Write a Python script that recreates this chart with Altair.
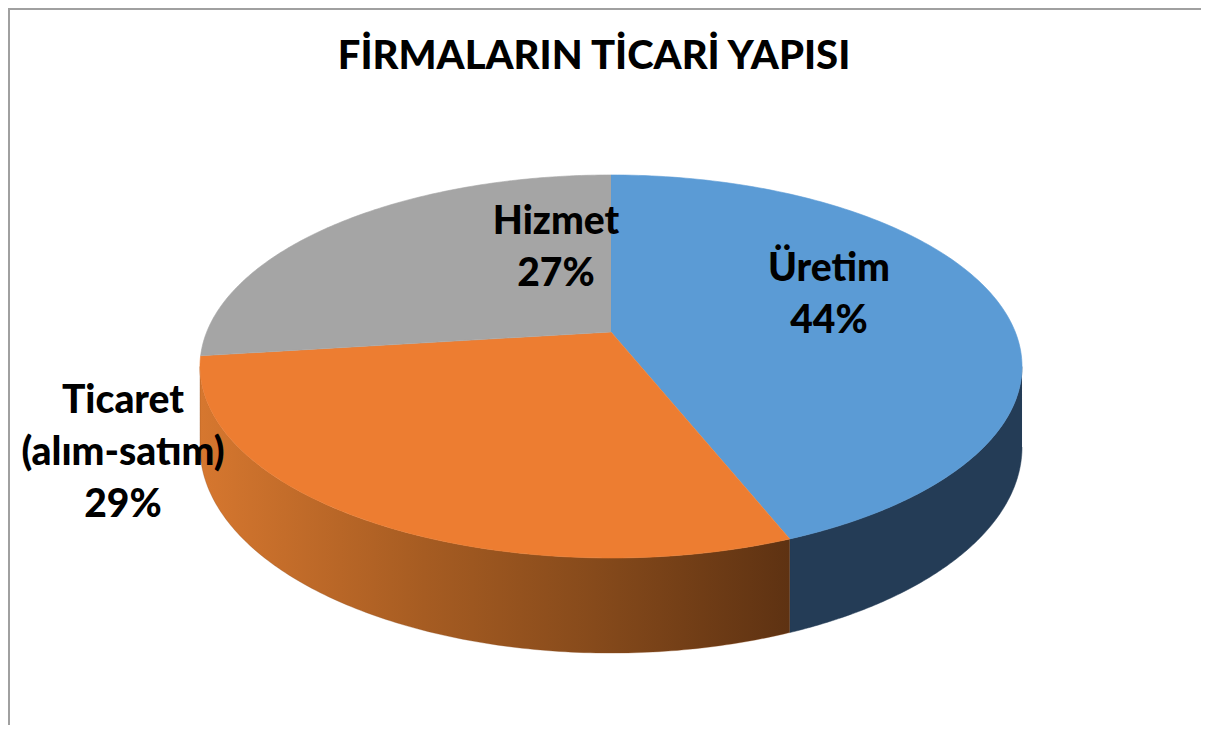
import numpy as np
import pandas as pd
import altair as alt

# ---------------- data ----------------
categories = ["Üretim", "Ticaret (alım-satım)", "Hizmet"]
values = [44, 29, 27]
label_lines = [["Üretim"], ["Ticaret", "(alım-satım)"], ["Hizmet"]]
title_text = "FİRMALARIN TİCARİ YAPISI"

# ---------------- style / layout ----------------
top_colors = ["#5B9BD5", "#ED7D31", "#A5A5A5"]
side_blue = "#243C56"
W, H = 1193, 717            # whole chart (page is 1209x733 with 8px margin)
CX, CY = 611, 332           # projected pie centre (page pixels)
A, B = 404.3, 185.3         # projected radii
K = 0.18                    # perspective strength
DEPTH = 78                  # pie thickness
N = 140                     # points per arc
label_pos = [(829, 281), (123, 413), (556, 234)]   # first-line baselines
title_pos = (594, 69)


def proj(theta_deg):
    t = np.radians(theta_deg)
    u, v = np.sin(t), np.cos(t)
    w = 1 + K * v
    return CX + A * u / w, CY - B * v / w, w


total = sum(values)
edges = np.concatenate([[0], np.cumsum(values)]) / total * 360.0
sil_lo = np.degrees(np.arccos(-K))
sil_hi = 360 - sil_lo

rows = []
for i, cat in enumerate(categories):
    a, b = edges[i], edges[i + 1]
    # top face: centre + arc
    rows.append(dict(piece=f"top{i}", kind="top", slice=cat, i=0, x=CX, y=CY))
    th = np.linspace(a, b, N)
    xs, ys, _ = proj(th)
    for j, (x, y) in enumerate(zip(xs, ys)):
        rows.append(dict(piece=f"top{i}", kind="top", slice=cat, i=j + 1, x=x, y=y))
    # visible side face
    lo, hi = max(a, sil_lo), min(b, sil_hi)
    if lo < hi:
        th = np.linspace(lo, hi, N)
        xs, ys, ws = proj(th)
        k = 0
        for x, y in zip(xs, ys):
            rows.append(dict(piece=f"side{i}", kind="side", slice=cat, i=k, x=x, y=y)); k += 1
        for x, y, w in zip(xs[::-1], ys[::-1], ws[::-1]):
            rows.append(dict(piece=f"side{i}", kind="side", slice=cat, i=k, x=x, y=y + DEPTH / w)); k += 1

poly = pd.DataFrame(rows)

labels = pd.DataFrame({
    "slice": categories,
    "text": ["\n".join(l + [f"{v}%"]) for l, v in zip(label_lines, values)],
    "x": [p[0] for p in label_pos],
    "y": [p[1] for p in label_pos],
})

xsc = alt.Scale(domain=[8, 8 + W], nice=False, zero=False)
ysc = alt.Scale(domain=[8, 8 + H], nice=False, zero=False, reverse=True)
X = alt.X("x:Q", scale=xsc, axis=None)
Y = alt.Y("y:Q", scale=ysc, axis=None)

base = alt.Chart(poly)

side_u = base.transform_filter(alt.datum.piece == "side0").mark_line(
    fill=side_blue, stroke=side_blue, strokeWidth=0.5
).encode(x=X, y=Y, order="i:Q", detail="piece:N")

side_t = base.transform_filter(alt.datum.piece == "side1").mark_line(
    fill=alt.Gradient(
        gradient="linear", x1=0, x2=1, y1=0, y2=0,
        stops=[
            alt.GradientStop(offset=0, color="#D6772F"),
            alt.GradientStop(offset=0.38, color="#A65C22"),
            alt.GradientStop(offset=0.67, color="#864A1B"),
            alt.GradientStop(offset=1, color="#5E3212"),
        ],
    ),
    stroke="#8A4C1C", strokeWidth=0.3,
).encode(x=X, y=Y, order="i:Q", detail="piece:N")

top = base.transform_filter(alt.datum.kind == "top").mark_line(strokeWidth=0.6).encode(
    x=X, y=Y, order="i:Q", detail="piece:N",
    fill=alt.Fill("slice:N", scale=alt.Scale(domain=categories, range=top_colors), legend=None),
    stroke=alt.Stroke("slice:N", scale=alt.Scale(domain=categories, range=top_colors), legend=None),
)

text = alt.Chart(labels).mark_text(
    font="Lato", fontSize=39, fontWeight=900, lineHeight=52, lineBreak="\n",
    align="center", baseline="alphabetic", color="black",
).encode(x=X, y=Y, text="text:N")

title = alt.Chart(pd.DataFrame({"t": [title_text], "x": [title_pos[0]], "y": [title_pos[1]]})).mark_text(
    font="Lato", fontSize=40, fontWeight=900, align="center", baseline="alphabetic", color="black",
).encode(x=X, y=Y, text="t:N")

border_top = alt.Chart(pd.DataFrame({"a": [0]})).mark_rule(color="#A0A0A0", strokeWidth=2).encode(
    x=alt.value(0), x2=alt.value(W), y=alt.value(1))
border_left = alt.Chart(pd.DataFrame({"a": [0]})).mark_rule(color="#A0A0A0", strokeWidth=2).encode(
    x=alt.value(1), y=alt.value(0), y2=alt.value(H))

chart = alt.layer(side_u, side_t, top, text, title, border_top, border_left).properties(
    width=W, height=H, padding=0, autosize=alt.AutoSizeParams(type="none"),
).configure_view(stroke=None)

chart.save("out.html", embed_options={"renderer": "svg", "actions": False})
